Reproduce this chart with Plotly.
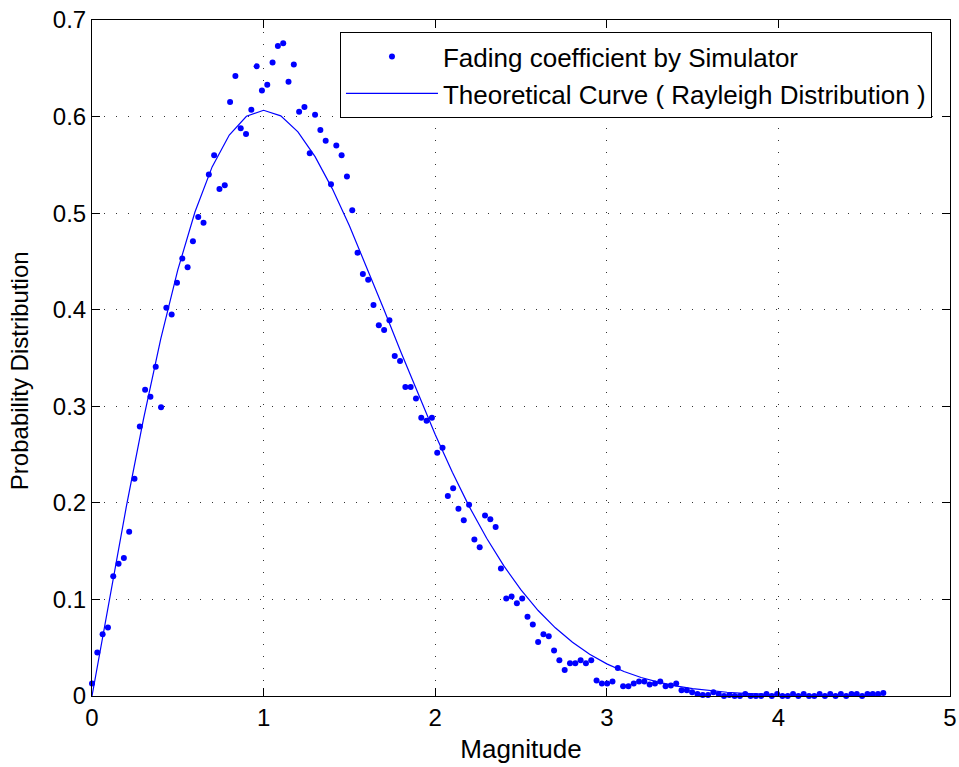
import plotly.graph_objects as go

# Simulated histogram (bin centres step ~0.03095, 150 bins)
sim_step = 0.03095
sim_y = [
    0.013, 0.045, 0.064, 0.071, 0.124, 0.137, 0.143, 0.170, 0.225, 0.279,
    0.317, 0.310, 0.341, 0.299, 0.402, 0.395, 0.428, 0.453, 0.444, 0.471,
    0.496, 0.490, 0.540, 0.560, 0.525, 0.529, 0.615, 0.642, 0.588, 0.582,
    0.607, 0.652, 0.627, 0.633, 0.656, 0.673, 0.676, 0.636, 0.654, 0.605,
    0.610, 0.562, 0.602, 0.586, 0.575, 0.530, 0.570, 0.560, 0.538, 0.503,
    0.459, 0.437, 0.431, 0.405, 0.384, 0.379, 0.389, 0.352, 0.347, 0.320,
    0.320, 0.308, 0.288, 0.285, 0.288, 0.252, 0.257, 0.207, 0.215, 0.194,
    0.182, 0.198, 0.162, 0.154, 0.187, 0.183, 0.175, 0.132, 0.101, 0.103,
    0.096, 0.101, 0.082, 0.074, 0.056, 0.064, 0.062, 0.047, 0.037, 0.027,
    0.034, 0.034, 0.037, 0.034, 0.037, 0.016, 0.013, 0.013, 0.015, 0.029,
    0.010, 0.010, 0.013, 0.015, 0.015, 0.012, 0.013, 0.015, 0.010, 0.011,
    0.013, 0.006, 0.006, 0.004, 0.002, 0.001, 0.001, 0.004, 0.002, 0.000,
    0.001, 0.000, 0.000, 0.002, 0.000, 0.000, 0.000, 0.002, 0.000, 0.002,
    0.000, 0.000, 0.002, 0.000, 0.002, 0.000, 0.000, 0.002, 0.000, 0.002,
    0.000, 0.002, 0.000, 0.002, 0.002, 0.000, 0.002, 0.002, 0.002, 0.003,
]
sim_x = [round(i * sim_step, 5) for i in range(len(sim_y))]

# Theoretical curve points (x step 0.1)
theo_x = [round(i * 0.1, 1) for i in range(47)]
theo_y = [
    0.0, 0.0995, 0.1960, 0.2868, 0.3692, 0.4412, 0.5012, 0.5479, 0.5809, 0.6003,
    0.6065, 0.6007, 0.5841, 0.5585, 0.5254, 0.4870, 0.4448, 0.4007, 0.3563, 0.3125,
    0.2707, 0.2316, 0.1956, 0.1633, 0.1347, 0.1098, 0.0885, 0.0706, 0.0556, 0.0433,
    0.0333, 0.0254, 0.0191, 0.0143, 0.0105, 0.0077, 0.0055, 0.0039, 0.0028, 0.0019,
    0.0013, 0.0009, 0.0006, 0.0004, 0.0003, 0.0002, 0.0001,
]

x_ticks = [0, 1, 2, 3, 4, 5]
y_ticks = [0, 0.1, 0.2, 0.3, 0.4, 0.5, 0.6, 0.7]

FONT = "Liberation Sans, Arial, Helvetica, sans-serif"

fig = go.Figure()
fig.add_trace(go.Scatter(
    x=sim_x, y=sim_y, mode="markers",
    name="Fading coefficient by Simulator",
    marker=dict(color="#0000ff", size=6, line=dict(width=0)),
    cliponaxis=False,
))
fig.add_trace(go.Scatter(
    x=theo_x, y=theo_y, mode="lines",
    name="Theoretical Curve ( Rayleigh Distribution )",
    line=dict(color="#0000ff", width=1.2),
))

axis_common = dict(
    showline=True, linecolor="black", linewidth=1, mirror="ticks",
    ticks="inside", ticklen=8, tickcolor="black", tickwidth=1,
    showgrid=True, gridcolor="#333333", gridwidth=1, griddash="1px,11px",
    zeroline=False,
    tickfont=dict(family=FONT, size=24, color="black"),
)

fig.update_xaxes(
    range=[0, 5], tickvals=x_ticks, ticktext=[str(v) for v in x_ticks],
    title=dict(text="Magnitude", font=dict(family=FONT, size=26, color="black"), standoff=10),
    **axis_common,
)
fig.update_yaxes(
    range=[0, 0.7], tickvals=y_ticks, ticktext=["0", "0.1", "0.2", "0.3", "0.4", "0.5", "0.6", "0.7"],
    **axis_common,
)

fig.update_layout(
    width=959, height=767,
    margin=dict(l=92, r=9, t=20, b=71, autoexpand=False),
    paper_bgcolor="white", plot_bgcolor="white",
    showlegend=True,
    legend=dict(
        x=0.979, y=0.982, xanchor="right", yanchor="top",
        bgcolor="white", bordercolor="black", borderwidth=1,
        font=dict(family=FONT, size=26, color="black"),
        itemwidth=92, tracegroupgap=0,
    ),
    annotations=[dict(
        text="Probability Distribution", textangle=-90,
        xref="paper", yref="paper", x=-0.0851, y=0.482,
        xanchor="center", yanchor="middle", showarrow=False,
        font=dict(family=FONT, size=24, color="black"),
    )],
)

fig.write_html("out.html")
